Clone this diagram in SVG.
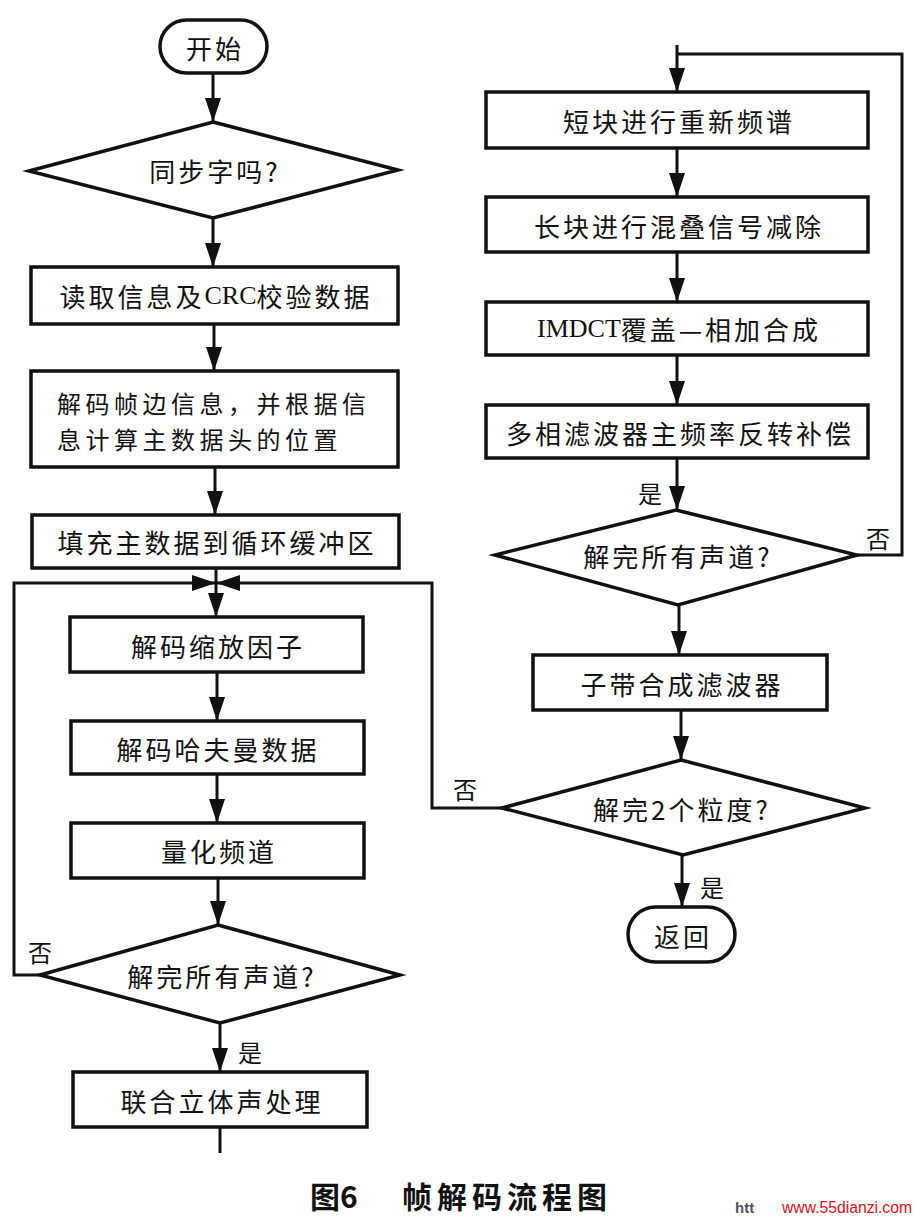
<svg xmlns="http://www.w3.org/2000/svg" width="916" height="1219" viewBox="0 0 916 1219">
<style>
.shape{fill:#fff;stroke:#111;stroke-width:3.5}
.conn{fill:none;stroke:#111;stroke-width:3}
.t{font-family:"Noto Sans CJK SC","Noto Sans",sans-serif;font-size:26px;fill:#111;dominant-baseline:central;letter-spacing:3px}
.c{text-anchor:middle}
.t2{font-family:"Noto Sans CJK SC","Noto Sans",sans-serif;font-size:24px;fill:#111;dominant-baseline:central;letter-spacing:4.5px}
.lbl{font-family:"Noto Sans CJK SC","Noto Sans",sans-serif;font-size:24px;fill:#111;text-anchor:middle;dominant-baseline:central}
.cap{font-family:"Noto Sans CJK SC","Noto Sans",sans-serif;font-size:30px;font-weight:700;fill:#111;dominant-baseline:central}
</style>
<defs>
<marker id="arr" markerUnits="userSpaceOnUse" markerWidth="24" markerHeight="16" refX="23" refY="8" orient="auto">
<path d="M0,0 L24,8 L0,16 z" fill="#111"/>
</marker>
</defs>
<rect width="916" height="1219" fill="#fff"/>
<g id="connectors">
<path class="conn" d="M213,73 V121" marker-end="url(#arr)"/>
<path class="conn" d="M213,218 V266" marker-end="url(#arr)"/>
<path class="conn" d="M214,324 V370" marker-end="url(#arr)"/>
<path class="conn" d="M215,467 V514" marker-end="url(#arr)"/>
<path class="conn" d="M216,568 V616" marker-end="url(#arr)"/>
<path class="conn" d="M40,975 H14 V583 H215" marker-end="url(#arr)"/>
<path class="conn" d="M502,808 H432 V583 H217" marker-end="url(#arr)"/>
<path class="conn" d="M217,672 V720" marker-end="url(#arr)"/>
<path class="conn" d="M217,774 V822" marker-end="url(#arr)"/>
<path class="conn" d="M218,878 V924" marker-end="url(#arr)"/>
<path class="conn" d="M220,1023 V1071" marker-end="url(#arr)"/>
<path class="conn" d="M220,1127 V1153"/>
<path class="conn" d="M677,45 V91" marker-end="url(#arr)"/>
<path class="conn" d="M857,555 H902 V54 H677"/>
<path class="conn" d="M677,148 V196" marker-end="url(#arr)"/>
<path class="conn" d="M677,252 V301" marker-end="url(#arr)"/>
<path class="conn" d="M677,355 V404" marker-end="url(#arr)"/>
<path class="conn" d="M677,458 V509" marker-end="url(#arr)"/>
<path class="conn" d="M679,605 V654" marker-end="url(#arr)"/>
<path class="conn" d="M681,710 V759" marker-end="url(#arr)"/>
<path class="conn" d="M682,855 V906" marker-end="url(#arr)"/>
</g>
<g id="start">
<rect class="shape" x="160" y="20" width="107" height="53" rx="26.5"/>
<text class="t c" x="215" y="47">开始</text>
</g>
<g id="sync">
<polygon class="shape" points="213,122 398,170 213,218 29,171"/>
<text class="t c" x="215" y="170">同步字吗?</text>
</g>
<g id="readcrc">
<rect class="shape" x="31" y="267" width="367" height="57"/>
<text class="t c" x="216" y="295">读取信息及<tspan font-family="Liberation Serif" letter-spacing="0">CRC</tspan>校验数据</text>
</g>
<g id="sideinfo">
<rect class="shape" x="31" y="371" width="367" height="96"/>
<text class="t2" x="57" y="402">解码帧边信息，并根据信</text>
<text class="t2" x="57" y="438">息计算主数据头的位置</text>
</g>
<g id="fill">
<rect class="shape" x="32" y="515" width="367" height="53"/>
<text class="t c" x="217" y="541">填充主数据到循环缓冲区</text>
</g>
<g id="scale">
<rect class="shape" x="70" y="617" width="293" height="55"/>
<text class="t c" x="218" y="645">解码缩放因子</text>
</g>
<g id="huffman">
<rect class="shape" x="71" y="721" width="293" height="53"/>
<text class="t c" x="218" y="748">解码哈夫曼数据</text>
</g>
<g id="quant">
<rect class="shape" x="71" y="823" width="293" height="55"/>
<text class="t c" x="219" y="850">量化频道</text>
</g>
<g id="allch1">
<polygon class="shape" points="218,925 400,975 220,1023 40,975"/>
<text class="t c" x="222" y="975">解完所有声道?</text>
</g>
<g id="stereo">
<rect class="shape" x="73" y="1072" width="294" height="55"/>
<text class="t c" x="222" y="1100">联合立体声处理</text>
</g>
<g id="reorder">
<rect class="shape" x="486" y="92" width="382" height="56"/>
<text class="t c" x="679" y="120">短块进行重新频谱</text>
</g>
<g id="alias">
<rect class="shape" x="486" y="197" width="382" height="55"/>
<text class="t c" x="679" y="225">长块进行混叠信号减除</text>
</g>
<g id="imdct">
<rect class="shape" x="486" y="302" width="382" height="53"/>
<text class="t c" x="679" y="328"><tspan font-family="Liberation Serif" letter-spacing="0">IMDCT</tspan>覆盖—相加合成</text>
</g>
<g id="polyphase">
<rect class="shape" x="486" y="405" width="382" height="53"/>
<text class="t c" x="680" y="432">多相滤波器主频率反转补偿</text>
</g>
<g id="allch2">
<polygon class="shape" points="676,510 857,555 678,605 495,555"/>
<text class="t c" x="678" y="555">解完所有声道?</text>
</g>
<g id="subband">
<rect class="shape" x="533" y="655" width="294" height="55"/>
<text class="t c" x="682" y="683">子带合成滤波器</text>
</g>
<g id="granule">
<polygon class="shape" points="681,760 865,808 683,855 502,808"/>
<text class="t c" x="682" y="808">解完2个粒度?</text>
</g>
<g id="return">
<rect class="shape" x="628" y="907" width="107" height="55" rx="27.5"/>
<text class="t c" x="683" y="935">返回</text>
</g>
<g id="labels">
<text class="lbl" x="40" y="951">否</text>
<text class="lbl" x="250" y="1051">是</text>
<text class="lbl" x="650" y="492">是</text>
<text class="lbl" x="878" y="537">否</text>
<text class="lbl" x="465" y="788">否</text>
<text class="lbl" x="712" y="886">是</text>
</g>
<g id="caption">
<text class="cap" x="310" y="1195">图6</text>
<text class="cap" x="402" y="1195" letter-spacing="5">帧解码流程图</text>
<text x="735" y="1213" font-family="Liberation Sans,sans-serif" font-size="15" font-weight="700" fill="#556">htt</text>
<text x="782" y="1213" font-family="Liberation Sans,sans-serif" font-size="16" fill="#e0101a" textLength="130" lengthAdjust="spacingAndGlyphs">www.55dianzi.com</text>
</g>
</svg>
